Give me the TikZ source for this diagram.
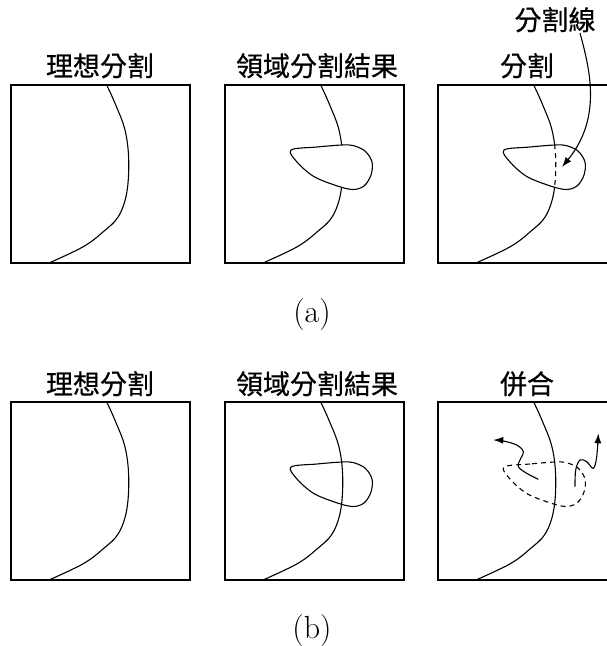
\documentclass[tikz,border=0pt]{standalone}
\usepackage{fontspec}
\newfontfamily\cjk[FakeBold=0.6]{Noto Sans CJK TC}
\usetikzlibrary{arrows.meta}
\begin{document}
\begin{tikzpicture}[x=1pt,y=-1pt,line width=1.1pt,
  panelbox/.style={draw,line width=1.1pt},
  title/.style={font=\cjk\fontsize{27}{30}\selectfont,anchor=base,inner sep=0pt},
  caption/.style={font=\fontsize{32}{36}\selectfont,inner sep=0pt},
  dsh/.style={dash pattern=on 5pt off 4pt},
  arr/.style={-{Latex[length=10pt,width=7pt]},line width=1.1pt}]
\useasboundingbox (0,0) rectangle (607,646);
\clip (0,0) rectangle (607,646);
\def\idealcurve{plot[smooth,tension=0.6] coordinates {(95.7,0) (104,18.3) (114,45) (117.7,75) (115.7,108) (107.3,131.7) (92.3,146.7) (72.3,161.7) (37.3,178.3)}}
\def\blob{plot[smooth cycle,tension=0.55] coordinates {(116.7,60) (92,62) (66,65) (72,77) (88,91) (108,99.5) (127,104.5) (139,101) (146,90) (147,77) (140,66) (128,60.5)}}
% titles
\node[title] (t1) at (100,76) {理想分割};
\node[title] (t2) at (317,76) {領域分割結果};
\node[title] (t3) at (527,76) {分割};
\node[title] (t4) at (100,394) {理想分割};
\node[title] (t5) at (317,394) {領域分割結果};
\node[title] (t6) at (527,394) {併合};
\node[title] (lbl) at (555,30) {分割線};
\node[caption] (ca) at (312,315) {(a)};
\node[caption] (cb) at (312,631) {(b)};
% top row
\begin{scope}[shift={(11,85)}]
  \draw (0,0) rectangle (179,178);
  \draw \idealcurve;
\end{scope}
\begin{scope}[shift={(225,85)}]
  \draw (0,0) rectangle (179,178);
  \draw \idealcurve;
  \fill[white] \blob;
  \draw \blob;
\end{scope}
\begin{scope}[shift={(438,85)}]
  \draw (0,0) rectangle (179,178);
  \draw \idealcurve;
  \fill[white] \blob;
  \begin{scope}
    \clip \blob;
    \draw[dsh] \idealcurve;
  \end{scope}
  \draw \blob;
\end{scope}
\coordinate (s1) at (580,33);
\coordinate (e1) at (562,167);
\draw[arr] (s1) .. controls (590,70) and (602,118) .. (e1);
% bottom row
\begin{scope}[shift={(11,402)}]
  \draw (0,0) rectangle (179,178);
  \draw \idealcurve;
\end{scope}
\begin{scope}[shift={(225,402)}]
  \draw (0,0) rectangle (179,178);
  \draw \idealcurve;
  \draw \blob;
\end{scope}
\begin{scope}[shift={(438,402)}]
  \draw (0,0) rectangle (179,178);
  \draw \idealcurve;
  \draw[dsh] \blob;
\end{scope}
\coordinate (a1s) at (538.3,479.3);
\coordinate (a1e) at (493.3,440);
\coordinate (a2s) at (575,486.7);
\coordinate (a2e) at (598.3,433.3);
\draw[arr] plot[smooth,tension=0.6] coordinates {(a1s) (526.7,473.3) (518.3,466.7) (520,460) (523.3,451.7) (516.7,445) (503.3,441) (a1e)};
\draw[arr] plot[smooth,tension=0.6] coordinates {(a2s) (575.7,470) (580,460) (586.7,461.7) (593.3,468.3) (596.7,456.7) (a2e)};
\end{tikzpicture}
\end{document}
